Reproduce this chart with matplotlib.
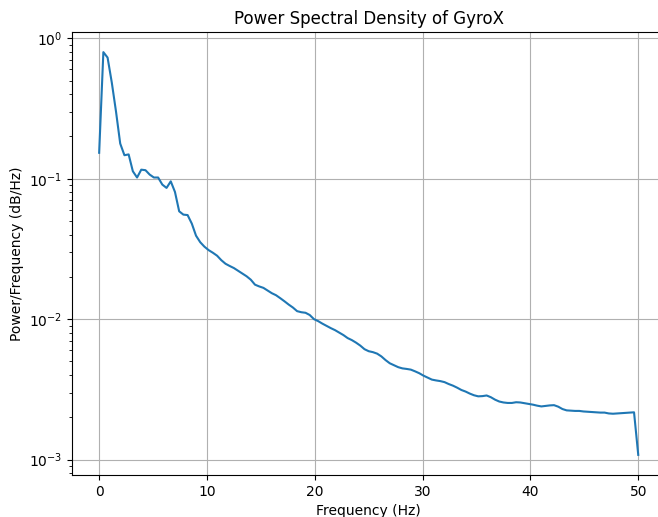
import numpy as np
import matplotlib
matplotlib.use("Agg")
import matplotlib.pyplot as plt

# Frequency bins (Hz): 129 bins from 0 to 50 Hz
freq_step = 100 / 256
n_bins = 129
freqs = [k * freq_step for k in range(n_bins)]

psd = [
    0.153, 0.797, 0.729, 0.484, 0.301, 0.178, 0.147, 0.149, 0.113, 0.102,
    0.116, 0.115, 0.107, 0.102, 0.102, 0.0908, 0.086, 0.0958, 0.0805, 0.0586,
    0.0555, 0.0551, 0.0479, 0.0393, 0.0353, 0.0328, 0.0310, 0.0297, 0.0283, 0.0263,
    0.0248, 0.0239, 0.0231, 0.0221, 0.0211, 0.0202, 0.0191, 0.0176, 0.0171, 0.0167,
    0.0160, 0.0153, 0.0148, 0.0141, 0.0134, 0.0127, 0.0121, 0.0114, 0.0112, 0.0111,
    0.0107, 0.0100, 0.00968, 0.00929, 0.00895, 0.00863, 0.00835, 0.00802, 0.00770, 0.00733,
    0.00709, 0.00680, 0.00648, 0.00611, 0.00591, 0.00582, 0.00568, 0.00543, 0.00511, 0.00485,
    0.00470, 0.00455, 0.00446, 0.00442, 0.00437, 0.00425, 0.00412, 0.00396, 0.00383, 0.00371,
    0.00366, 0.00362, 0.00356, 0.00345, 0.00336, 0.00325, 0.00313, 0.00305, 0.00295, 0.00287,
    0.00282, 0.00283, 0.00286, 0.00278, 0.00267, 0.00259, 0.00255, 0.00253, 0.00253, 0.00256,
    0.00255, 0.00252, 0.00249, 0.00246, 0.00242, 0.00239, 0.00241, 0.00243, 0.00244, 0.00238,
    0.00229, 0.00224, 0.00223, 0.00222, 0.00222, 0.00220, 0.00219, 0.00218, 0.00217, 0.00216,
    0.00216, 0.00213, 0.00212, 0.00213, 0.00214, 0.00215, 0.00216, 0.00217, 0.00108,
]

title = "Power Spectral Density of GyroX"
xlabel = "Frequency (Hz)"
ylabel = "Power/Frequency (dB/Hz)"

fig = plt.figure(figsize=(6.58, 5.17), dpi=100)
ax = fig.add_axes([72.2 / 658, 1 - 475 / 517, 593 / 658, 443 / 517])
ax.semilogy(freqs, psd, color="C0")
ax.set_title(title)
ax.set_xlabel(xlabel)
ax.set_ylabel(ylabel)
ax.grid(True)
fig.savefig("out.png", dpi=100)
